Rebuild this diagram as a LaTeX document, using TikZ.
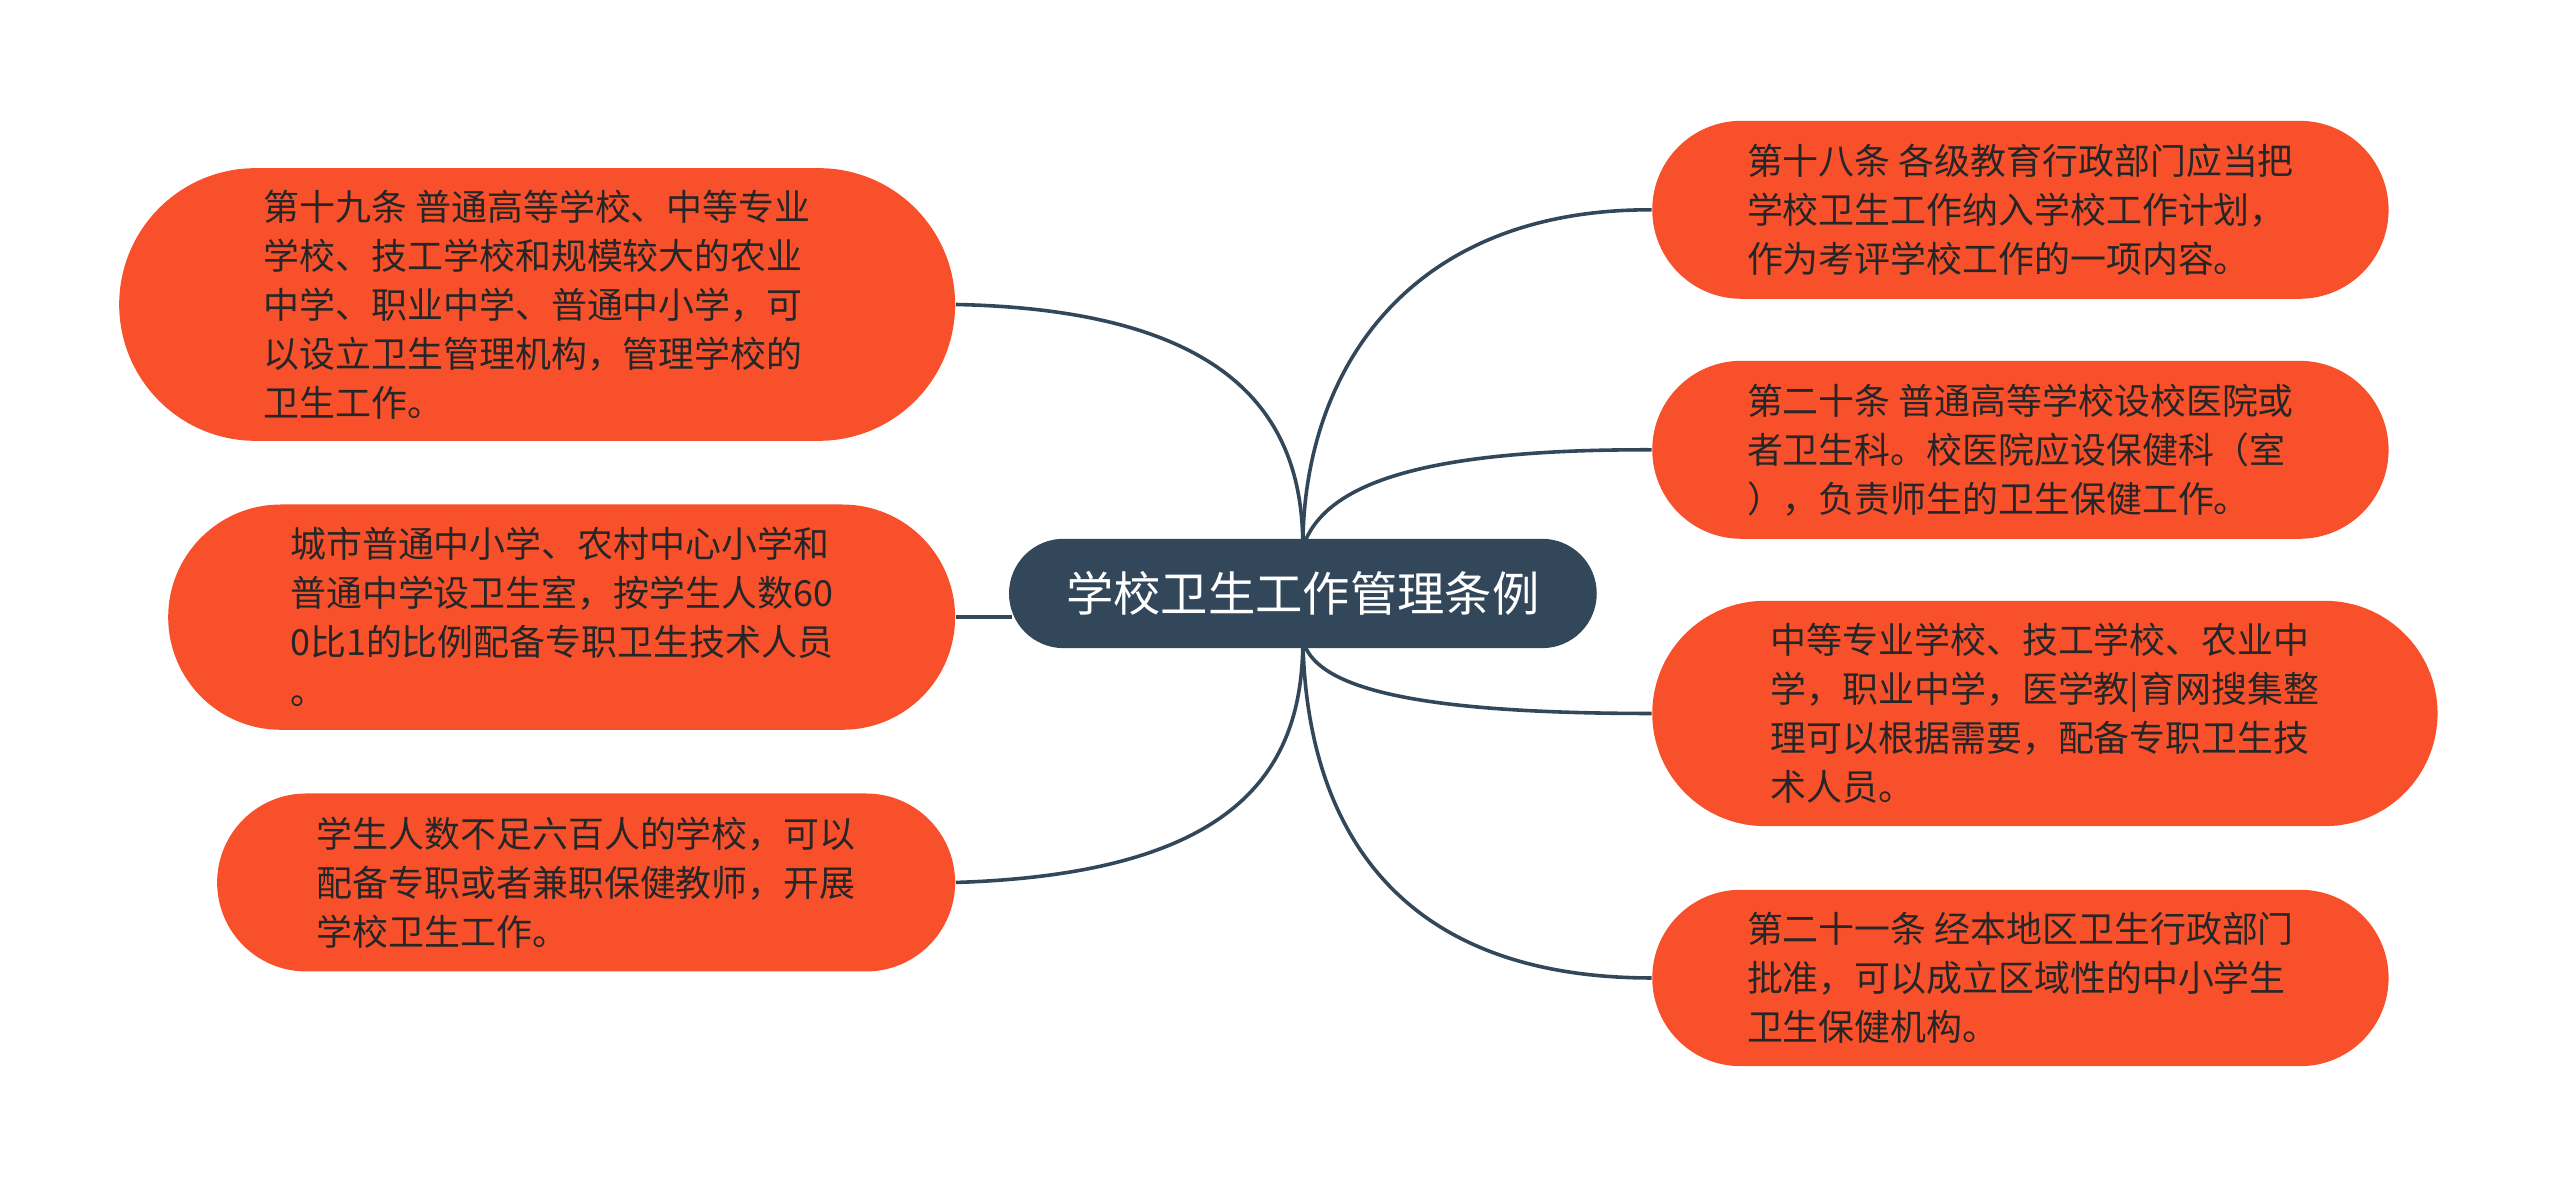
\documentclass[tikz,border=0pt]{standalone}
\usepackage{fontspec}
\setmainfont{Noto Sans CJK SC}
\definecolor{org}{HTML}{F9502C}
\definecolor{dk}{HTML}{33475A}
\definecolor{ln}{HTML}{33475A}
\begin{document}
\begin{tikzpicture}[x=0.5pt,y=-0.5pt,
 box/.style={fill=org,align=left,inner sep=0,text=black!85,font=\fontsize{11}{15}\selectfont},
 conn/.style={draw=ln,line width=1.1pt}]
\useasboundingbox (0,0) rectangle (1568,728);
\node[box,minimum width=256pt,minimum height=83.5pt,rounded corners=41.75pt] (l1) at (329,186.5) {第十九条 普通高等学校、中等专业\\学校、技工学校和规模较大的农业\\中学、职业中学、普通中小学，可\\以设立卫生管理机构，管理学校的\\卫生工作。};
\node[box,minimum width=241pt,minimum height=69pt,rounded corners=34.5pt] (l2) at (344,378) {城市普通中小学、农村中心小学和\\普通中学设卫生室，按学生人数60\\0比1的比例配备专职卫生技术人员\\。};
\node[box,minimum width=226pt,minimum height=54.5pt,rounded corners=27.25pt] (l3) at (359,540.5) {学生人数不足六百人的学校，可以\\配备专职或者兼职保健教师，开展\\学校卫生工作。};
\node[box,minimum width=225.5pt,minimum height=54.5pt,rounded corners=27.25pt] (r1) at (1237.5,128.5) {第十八条 各级教育行政部门应当把\\学校卫生工作纳入学校工作计划，\\作为考评学校工作的一项内容。};
\node[box,minimum width=225.5pt,minimum height=54.5pt,rounded corners=27.25pt] (r2) at (1237.5,275.5) {第二十条 普通高等学校设校医院或\\者卫生科。校医院应设保健科（室\\），负责师生的卫生保健工作。};
\node[box,minimum width=240.5pt,minimum height=69pt,rounded corners=34.5pt] (r3) at (1252.5,437) {中等专业学校、技工学校、农业中\\学，职业中学，医学教|育网搜集整\\理可以根据需要，配备专职卫生技\\术人员。};
\node[box,minimum width=225.5pt,minimum height=54pt,rounded corners=27pt] (r4) at (1237.5,599) {第二十一条 经本地区卫生行政部门\\批准，可以成立区域性的中小学生\\卫生保健机构。};
\coordinate (ct) at (798,335);\coordinate (cb) at (798,392);\coordinate (cw) at (620,378);
\draw[conn] (l1.east) .. controls (760,190) and (798,260) .. (ct);
\draw[conn] (l2.east) -- (cw);
\draw[conn] (l3.east) .. controls (760,535) and (798,470) .. (cb);
\draw[conn] (r1.west) .. controls (860,128) and (798,230) .. (ct);
\draw[conn] (r2.west) .. controls (860,275) and (810,300) .. (ct);
\draw[conn] (r3.west) .. controls (860,437) and (805,420) .. (cb);
\draw[conn] (r4.west) .. controls (850,599) and (800,500) .. (cb);
\node[fill=dk,rounded corners=16.75pt,minimum width=180pt,minimum height=33.5pt,inner sep=0,text=white,font=\fontsize{14.5}{15}\selectfont] (c) at (798,363.5) {学校卫生工作管理条例};
\end{tikzpicture}
\end{document}
